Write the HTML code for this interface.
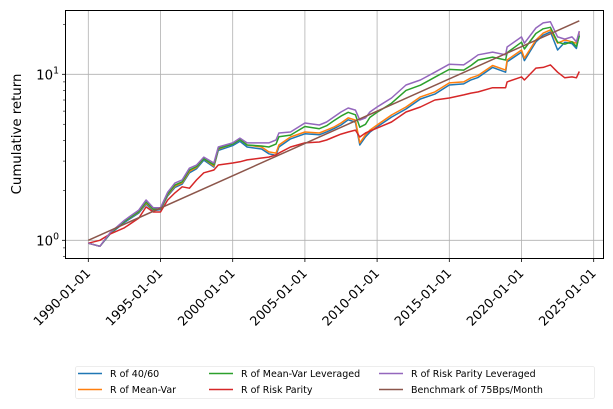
<!DOCTYPE html>
<html><head><meta charset="utf-8"><style>
body{margin:0;background:#fff;font-family:"DejaVu Sans","Liberation Sans",sans-serif}
svg{display:block}
</style></head><body>
<svg id="chart" width="613" height="409" viewBox="0 0 613 409" xmlns="http://www.w3.org/2000/svg" font-family="DejaVu Sans, Liberation Sans, sans-serif">
<rect width="613" height="409" fill="#fff"/>
<g id="grid"></g>
<g id="series"></g>
<rect x="65.5" y="10.5" width="538" height="248" fill="none" stroke="#000" stroke-width="1"/>
<g id="axes"></g>
<text transform="translate(21,134) rotate(-90)" text-anchor="middle" font-size="13.3" fill="#000">Cumulative return</text>
<g id="legend"></g>
</svg>
<script>
const dates=[1990.0,1990.8,1991.5,1992.5,1993.5,1994.0,1994.5,1995.0,1995.5,1996.0,1996.5,1997.0,1997.5,1998.0,1998.7,1999.0,2000.0,2000.5,2001.0,2002.0,2002.5,2003.0,2003.2,2004.0,2005.0,2006.0,2006.5,2007.0,2007.5,2008.0,2008.5,2008.8,2009.2,2009.5,2010.0,2011.0,2012.0,2013.0,2014.0,2015.0,2016.0,2016.5,2017.0,2018.0,2018.9,2019.0,2020.0,2020.2,2021.0,2021.5,2022.0,2022.5,2023.0,2023.5,2023.8,2024.0];
const r4060=[0.96,0.92,1.09,1.28,1.46,1.65,1.51,1.53,1.85,2.08,2.18,2.55,2.70,3.04,2.76,3.48,3.72,3.95,3.65,3.55,3.32,3.25,3.65,4.08,4.38,4.32,4.50,4.70,4.95,5.32,5.15,3.75,4.20,4.48,4.82,5.52,6.18,7.10,7.60,8.62,8.75,9.25,9.58,11.0,10.3,11.9,13.6,12.1,15.7,17.2,18.0,14.0,15.6,15.3,14.3,17.4];
const rMeanVar=[0.96,0.92,1.10,1.30,1.48,1.68,1.53,1.55,1.88,2.12,2.22,2.60,2.75,3.10,2.80,3.55,3.80,4.05,3.75,3.65,3.41,3.35,3.75,4.19,4.49,4.43,4.61,4.81,5.09,5.46,5.30,3.86,4.32,4.61,4.95,5.69,6.35,7.31,7.83,8.87,9.00,9.52,9.85,11.3,10.6,12.2,14.0,12.5,16.1,17.7,18.5,15.4,16.1,15.7,15.4,17.9];
const rMeanVarLev=[0.96,0.92,1.10,1.30,1.49,1.70,1.54,1.55,1.90,2.15,2.25,2.65,2.78,3.10,2.85,3.58,3.80,4.05,3.75,3.70,3.65,3.80,4.20,4.30,4.85,4.70,4.90,5.25,5.60,5.90,5.70,4.80,5.00,5.50,5.90,6.70,8.00,8.60,9.60,10.7,10.6,11.3,12.2,12.7,12.2,13.5,15.6,14.2,17.6,18.8,19.2,15.6,15.2,15.7,14.7,17.0];
const rRiskParity=[0.96,1.00,1.09,1.19,1.36,1.59,1.48,1.48,1.75,1.93,2.10,2.06,2.31,2.55,2.65,2.84,2.92,2.97,3.05,3.13,3.17,3.27,3.35,3.65,3.86,3.91,4.02,4.19,4.36,4.49,4.61,4.19,4.43,4.55,4.74,5.16,5.93,6.35,7.00,7.20,7.51,7.70,7.83,8.30,8.30,9.00,9.65,9.24,10.9,11.0,11.4,10.3,9.52,9.65,9.52,10.4];
const rRiskParityLev=[0.96,0.92,1.11,1.32,1.52,1.75,1.57,1.57,1.95,2.21,2.31,2.72,2.84,3.17,2.92,3.65,3.86,4.13,3.86,3.86,3.86,4.02,4.43,4.49,5.09,4.95,5.16,5.53,5.93,6.27,6.09,5.30,5.46,5.93,6.35,7.20,8.62,9.24,10.3,11.5,11.4,12.2,13.1,13.6,13.1,14.6,16.8,15.4,19.0,20.4,20.7,16.8,16.3,16.8,15.7,18.2];
const benchDates=[1990.0,2024.0];
const benchValues=[1.0,21.0];
const xTickYears=[1990,1995,2000,2005,2010,2015,2020,2025];
const xTickLabels=["1990-01-01","1995-01-01","2000-01-01","2005-01-01","2010-01-01","2015-01-01","2020-01-01","2025-01-01"];
const yMajor=[1,10];
const yMinor=[0.8,0.9,2,3,4,5,6,7,8,9,20];
const seriesNames=["R of 40/60","R of Mean-Var","R of Mean-Var Leveraged","R of Risk Parity","R of Risk Parity Leveraged","Benchmark of 75Bps/Month"];
const colors=["#1f77b4","#ff7f0e","#2ca02c","#d62728","#9467bd","#8c564b"];

const NS="http://www.w3.org/2000/svg";
function X(t){return 88.3+(t-1990)*14.44;}
function Y(v){return 240.3-Math.log10(v)*166;}
function mk(tag,attrs,parent){const e=document.createElementNS(NS,tag);for(const k in attrs)e.setAttribute(k,attrs[k]);parent.appendChild(e);return e;}
const grid=document.getElementById('grid'),axes=document.getElementById('axes'),ser=document.getElementById('series'),leg=document.getElementById('legend');
xTickYears.forEach((yr,i)=>{
  const x=X(yr);
  const g=mk('line',{x1:x,x2:x,y1:10.5,y2:258.5,stroke:'#b0b0b0','stroke-width':0.8},grid);
  
  
  const t=mk('line',{x1:x,x2:x,y1:258.5,y2:262,stroke:'#000','stroke-width':0.8},axes);
  
  
  const l=mk('text',{transform:`translate(${x+3},274) rotate(-45)`,'text-anchor':'end','font-size':'12.8',fill:'#000'},axes);
  l.textContent=xTickLabels[i];
  
  
});
yMajor.forEach(v=>{
  const y=Y(v);
  const g=mk('line',{x1:65.5,x2:603.5,y1:y,y2:y,stroke:'#b0b0b0','stroke-width':0.8},grid);
  
  
  const t=mk('line',{x1:62,x2:65.5,y1:y,y2:y,stroke:'#000','stroke-width':0.8},axes);
  
  
  const l=mk('text',{x:59,y:y+5,'text-anchor':'end','font-size':'13.3',fill:'#000'},axes);
  
  
  l.textContent='10';
  const s=mk('tspan',{dy:'-6','font-size':'9.3'},l);s.textContent=String(Math.round(Math.log10(v)));
});
yMinor.forEach(v=>{
  const y=Y(v);
  const t=mk('line',{x1:63,x2:65.5,y1:y,y2:y,stroke:'#000','stroke-width':0.6},axes);
  
  
});
const all=[r4060,rMeanVar,rMeanVarLev,rRiskParity,rRiskParityLev];
[0,1,2,3,4].forEach(i=>{
  const d=dates.map((t,j)=>(j?'L':'M')+X(t).toFixed(1)+','+Y(all[i][j]).toFixed(1)).join('');
  const p=mk('path',{d:d,fill:'none',stroke:colors[i],'stroke-width':1.5,'stroke-linejoin':'round'},ser);
  
  
});
const bd=benchDates.map((t,j)=>(j?'L':'M')+X(t).toFixed(1)+','+Y(benchValues[j]).toFixed(1)).join('');
const bp=mk('path',{d:bd,fill:'none',stroke:colors[5],'stroke-width':1.5},ser);


const lb=mk('rect',{x:75.5,y:366.5,width:519,height:32,fill:'#fff',stroke:'#e8e8e8','stroke-width':0.8,rx:2},leg);


const colX=[78,209,379],rowY=[373.5,389.5];
seriesNames.forEach((n,i)=>{
  const c=Math.floor(i/2),r=i%2;
  const g=mk('g',{},leg);
  
  
  mk('line',{x1:colX[c],x2:colX[c]+24,y1:rowY[r],y2:rowY[r],stroke:colors[i],'stroke-width':1.5},g);
  const t=mk('text',{x:colX[c]+32,y:rowY[r]+3.5,'font-size':'9.5',fill:'#000'},g);
  t.textContent=n;
});
</script>
</body></html>
